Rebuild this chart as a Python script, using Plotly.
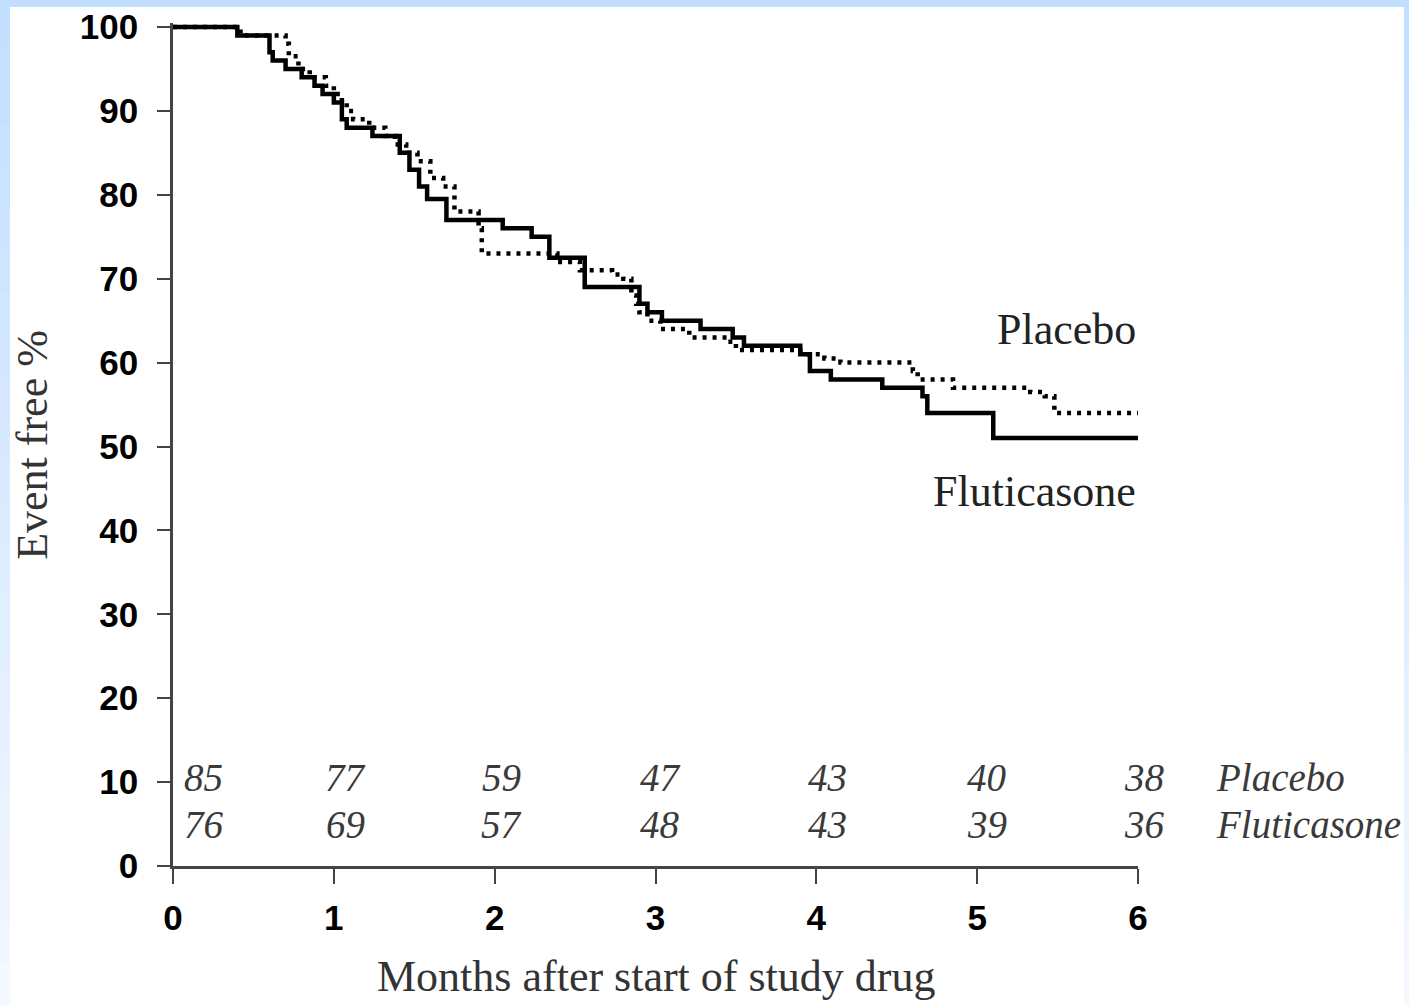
import plotly.graph_objects as go

# ---------------- data ----------------
flut_t = [0, 0.40, 0.60, 0.62, 0.70, 0.80, 0.88, 0.93, 1.00, 1.05, 1.08, 1.24, 1.41, 1.47, 1.53, 1.58, 1.70,
          2.05, 2.23, 2.34, 2.56, 2.90, 2.95, 3.04, 3.28, 3.48, 3.55, 3.90, 3.96, 4.09, 4.41, 4.66, 4.69,
          5.10, 6.00]
flut_s = [100, 99, 97, 96, 95, 94, 93, 92, 91, 89, 88, 87, 85, 83, 81, 79.5, 77,
          76, 75, 72.5, 69, 67, 66, 65, 64, 63, 62, 61, 59, 58, 57, 56, 54,
          51, 51]

plac_t = [0, 0.42, 0.70, 0.72, 0.78, 0.85, 0.95, 1.00, 1.05, 1.08, 1.12, 1.22, 1.32, 1.38, 1.45, 1.52,
          1.60, 1.68, 1.75, 1.90, 1.92, 2.39, 2.53, 2.73, 2.80, 2.85, 2.88, 2.90, 2.95, 3.03, 3.21,
          3.45, 3.50, 3.90, 4.05, 4.15, 4.60, 4.63, 4.85, 5.33, 5.42, 5.48, 6.00]
plac_s = [100, 99, 98, 96.5, 95, 94, 93, 92, 91, 90, 89, 88, 87, 86, 85, 84,
          82, 81, 78, 76, 73, 72, 71, 70.5, 70, 68, 67, 66, 65, 64, 63,
          62.5, 61.5, 61, 60.5, 60, 59, 58, 57, 56.5, 56, 54, 54]

risk_months = [0, 1, 2, 3, 4, 5, 6]
risk_placebo = [85, 77, 59, 47, 43, 40, 38]
risk_flut = [76, 69, 57, 48, 43, 39, 36]

x_ticks = [0, 1, 2, 3, 4, 5, 6]
y_ticks = [0, 10, 20, 30, 40, 50, 60, 70, 80, 90, 100]

# ---------------- layout helpers ----------------
W, H = 1409, 1005
L, R, T, B = 173, 271, 23, 139
PW, PH = W - L - R, H - T - B
X_MAX = 6.0

def px_x(p):
    return (p - L) / PW

def px_y(p):
    return (H - B - p) / PH

def dx(v):  # data x -> paper x
    return v / X_MAX

risk_x_pos = [0.19, 1.07, 2.04, 3.03, 4.07, 5.06, 6.04]

fig = go.Figure()

fig.add_trace(go.Scatter(x=plac_t, y=plac_s, mode="lines", line_shape="hv",
                         line=dict(color="black", width=4.5, dash="4px,6px"),
                         name="Placebo", showlegend=False))
fig.add_trace(go.Scatter(x=flut_t, y=flut_s, mode="lines", line_shape="hv",
                         line=dict(color="black", width=4.5),
                         name="Fluticasone", showlegend=False))

serif = "Liberation Serif, Times New Roman, serif"
sans = "Liberation Sans, Arial, sans-serif"
risk_font = dict(family=serif, size=39, color="#3a3a3a")

ann = []
for xp, v in zip(risk_x_pos, risk_placebo):
    ann.append(dict(x=dx(xp), y=10.5, xref="paper", yref="y", text=f"<i>{v}</i>", showarrow=False,
                    font=risk_font, xanchor="center", yanchor="middle"))
for xp, v in zip(risk_x_pos, risk_flut):
    ann.append(dict(x=dx(xp), y=4.9, xref="paper", yref="y", text=f"<i>{v}</i>", showarrow=False,
                    font=risk_font, xanchor="center", yanchor="middle"))
ann.append(dict(x=dx(6.47), y=10.5, xref="paper", yref="y", text="<i>Placebo</i>", showarrow=False,
                font=risk_font, xanchor="left", yanchor="middle"))
ann.append(dict(x=dx(6.47), y=4.9, xref="paper", yref="y", text="<i>Fluticasone</i>", showarrow=False,
                font=risk_font, xanchor="left", yanchor="middle"))
ann.append(dict(x=6.0, y=64.0, xref="x", yref="y", text="Placebo", showarrow=False,
                font=dict(family=serif, size=44, color="#222222"), xanchor="right", yanchor="middle"))
ann.append(dict(x=6.0, y=44.6, xref="x", yref="y", text="Fluticasone", showarrow=False,
                font=dict(family=serif, size=44, color="#222222"), xanchor="right", yanchor="middle"))
ann.append(dict(x=px_x(33), y=50.2, xref="paper", yref="y", text="Event free %", showarrow=False,
                textangle=-90, font=dict(family=serif, size=44, color="#333333"),
                xanchor="center", yanchor="middle"))
ann.append(dict(x=3.0, y=px_y(977), xref="x", yref="paper", text="Months after start of study drug",
                showarrow=False, font=dict(family=serif, size=44, color="#333333"),
                xanchor="center", yanchor="middle"))

# background border: light-blue gradient frame
shapes = []
top_c = (194, 223, 255)
bot_c = (244, 248, 255)
n = 24
for i in range(n):
    f = i / (n - 1)
    c = tuple(int(top_c[k] + (bot_c[k] - top_c[k]) * f) for k in range(3))
    col = f"rgb({c[0]},{c[1]},{c[2]})"
    y0p = i * H / n
    y1p = (i + 1) * H / n + 1
    for (xa, xb) in [(0, 10), (1404, W)]:
        shapes.append(dict(type="rect", xref="paper", yref="paper",
                           x0=px_x(xa), x1=px_x(xb), y0=px_y(y1p), y1=px_y(y0p),
                           fillcolor=col, line=dict(width=0), layer="below"))
shapes.append(dict(type="rect", xref="paper", yref="paper",
                   x0=px_x(0), x1=px_x(W), y0=px_y(7), y1=px_y(0),
                   fillcolor=f"rgb{top_c}", line=dict(width=0), layer="below"))

fig.update_layout(
    width=W, height=H,
    margin=dict(l=L, r=R, t=T, b=B, autoexpand=False),
    paper_bgcolor="white", plot_bgcolor="white",
    annotations=ann, shapes=shapes,
    xaxis=dict(range=[0, X_MAX], tickvals=x_ticks, ticktext=[str(v) for v in x_ticks],
               showgrid=False, zeroline=False, showline=True, linecolor="#444444", linewidth=2.5,
               ticks="outside", ticklen=15, tickwidth=2, tickcolor="#444444", automargin=False,
               tickfont=dict(family=sans, size=35, color="black", weight="bold"),
               ticklabelstandoff=4),
    yaxis=dict(range=[0, 843 / 8.39], tickvals=y_ticks, ticktext=[str(v) for v in y_ticks],
               showgrid=False, zeroline=False, showline=True, linecolor="#444444", linewidth=2.5,
               ticks="outside", ticklen=13, tickwidth=2, tickcolor="#444444", automargin=False,
               tickfont=dict(family=sans, size=35, color="black", weight="bold"),
               ticklabelstandoff=12),
)

fig.write_html("out.html", config={"displayModeBar": False},
               post_script="document.body.style.margin='0';document.body.style.overflow='hidden';")
